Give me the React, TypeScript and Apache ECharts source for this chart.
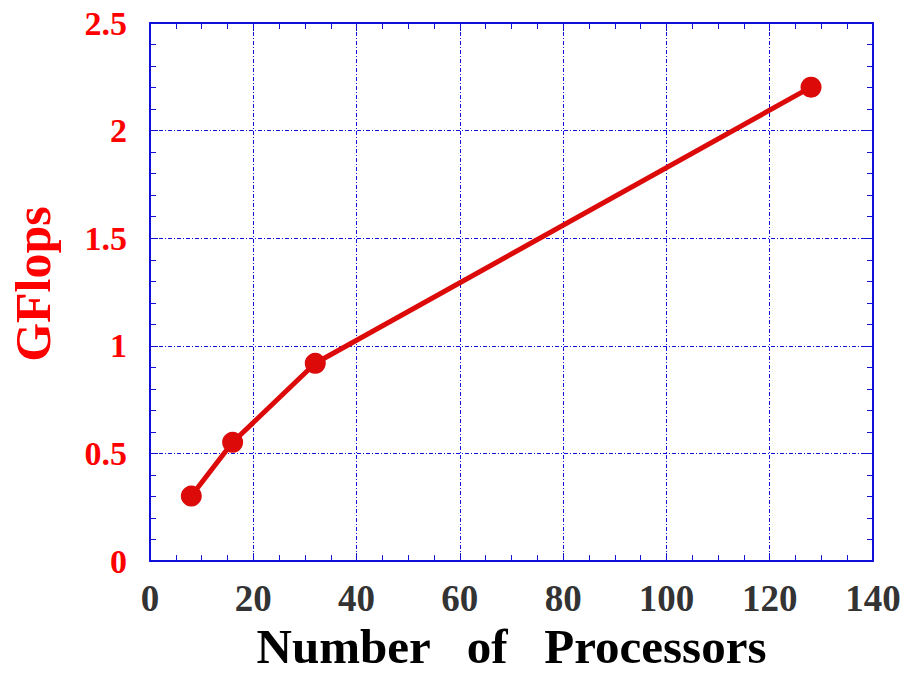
import React, { useEffect, useRef } from "react";
import * as echarts from "echarts";

const processors = [8, 16, 32, 128];
const gflops = [0.302, 0.552, 0.919, 2.202];
const xTitle = "Number   of   Processors";
const yTitle = "GFlops";

const blue = "#1010d8";
const serif = "'Liberation Serif', 'Times New Roman', serif";

export default function App() {
  const ref = useRef<HTMLDivElement>(null);
  useEffect(() => {
    const chart = echarts.init(ref.current!, null, { renderer: "svg" });
    const baseX = {
      type: "value" as const,
      min: 0,
      max: 140,
      interval: 20,
      axisLine: { show: true, onZero: false, lineStyle: { color: blue, width: 2 } },
      axisTick: { show: true, inside: true, length: 8, lineStyle: { color: blue, width: 1 } },
      minorTick: { show: true, splitNumber: 4, length: 6, lineStyle: { color: blue, width: 1 } },
    };
    const baseY = {
      type: "value" as const,
      min: 0,
      max: 2.5,
      interval: 0.5,
      axisLine: { show: true, onZero: false, lineStyle: { color: blue, width: 2 } },
      axisTick: { show: true, inside: true, length: 8, lineStyle: { color: blue, width: 1 } },
      minorTick: { show: true, splitNumber: 5, length: 6, lineStyle: { color: blue, width: 1 } },
    };
    chart.setOption({
      animation: false,
      backgroundColor: "#ffffff",
      grid: { left: 149, right: 36, top: 15, bottom: 96, containLabel: false },
      xAxis: [
        {
          ...baseX,
          position: "bottom",
          name: xTitle,
          nameLocation: "middle",
          nameGap: 52,
          nameTextStyle: { color: "#000", fontFamily: serif, fontWeight: "bold", fontSize: 49 },
          axisLabel: { color: "#333", fontFamily: serif, fontWeight: "bold", fontSize: 37, margin: 19 },
          splitLine: { show: true, lineStyle: { color: blue, width: 1, type: [4, 2, 1, 2] } },
        },
        {
          ...baseX,
          position: "top",
          axisLabel: { show: false },
          splitLine: { show: false },
        },
      ],
      yAxis: [
        {
          ...baseY,
          position: "left",
          name: yTitle,
          nameLocation: "middle",
          nameGap: 92,
          nameRotate: 90,
          nameTextStyle: { color: "#ff0000", fontFamily: serif, fontWeight: "bold", fontSize: 50, padding: [0, 0, 0, 16] },
          axisLabel: {
            color: "#ff0000",
            fontFamily: serif,
            fontWeight: "bold",
            fontSize: 34,
            lineHeight: 34,
            margin: 23,
            padding: [12, 0, 0, 0],
          },
          splitLine: { show: true, lineStyle: { color: blue, width: 1, type: [4, 2, 1, 2] } },
        },
        {
          ...baseY,
          position: "right",
          axisLabel: { show: false },
          splitLine: { show: false },
        },
      ],
      series: [
        {
          type: "line",
          data: processors.map((p, i) => [p, gflops[i]]),
          xAxisIndex: 0,
          yAxisIndex: 0,
          symbol: "circle",
          symbolSize: 21,
          lineStyle: { color: "#dd0a0a", width: 5 },
          itemStyle: { color: "#dd0a0a" },
        },
      ],
    });
    return () => chart.dispose();
  }, []);
  return <div ref={ref} style={{ width: 909, height: 676, position: "absolute", left: 0, top: 0 }} />;
}
